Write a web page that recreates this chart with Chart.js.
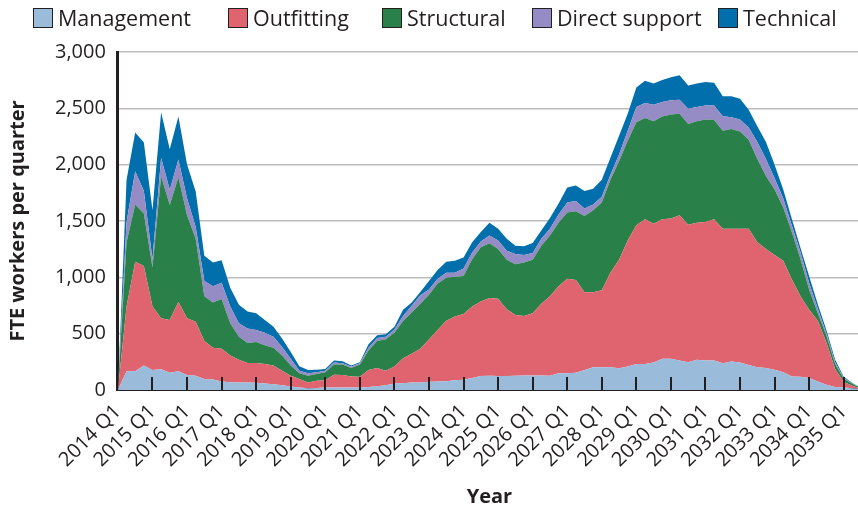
<!DOCTYPE html>
<html lang="en">
<head>
<meta charset="UTF-8">
<title>FTE workers per quarter</title>
<script src="https://cdn.jsdelivr.net/npm/chart.js"></script>
<style>
  html, body { margin: 0; padding: 0; background: #fff; overflow: hidden; }
  .wrap { position: relative; width: 858px; height: 509px; overflow: hidden; }
  #chart { position: absolute; left: 0; top: 0; }
  .legend { position: absolute; top: 7px; left: 0; width: 858px; height: 24px; font-family: 'Open Sans', sans-serif; font-size: 21.5px; color: #231f20; line-height: 22px; white-space: nowrap; }
  .legend .item { position: absolute; top: 0; display: flex; align-items: center; }
  .legend .box { width: 18px; height: 18px; border: 1px solid #231f20; margin-right: 5px; }
</style>
</head>
<body>
<div class="wrap">
  <canvas id="chart" width="861" height="509"></canvas>
  <div class="legend" id="legend"></div>
</div>

<script>
// quarters shown on the x axis (last ones run past the right edge, like the original)
const quarters = [
  '2014 Q1','2014 Q2','2014 Q3','2014 Q4','2015 Q1','2015 Q2','2015 Q3','2015 Q4',
  '2016 Q1','2016 Q2','2016 Q3','2016 Q4','2017 Q1','2017 Q2','2017 Q3','2017 Q4',
  '2018 Q1','2018 Q2','2018 Q3','2018 Q4','2019 Q1','2019 Q2','2019 Q3','2019 Q4',
  '2020 Q1','2020 Q2','2020 Q3','2020 Q4','2021 Q1','2021 Q2','2021 Q3','2021 Q4',
  '2022 Q1','2022 Q2','2022 Q3','2022 Q4','2023 Q1','2023 Q2','2023 Q3','2023 Q4',
  '2024 Q1','2024 Q2','2024 Q3','2024 Q4','2025 Q1','2025 Q2','2025 Q3','2025 Q4',
  '2026 Q1','2026 Q2','2026 Q3','2026 Q4','2027 Q1','2027 Q2','2027 Q3','2027 Q4',
  '2028 Q1','2028 Q2','2028 Q3','2028 Q4','2029 Q1','2029 Q2','2029 Q3','2029 Q4',
  '2030 Q1','2030 Q2','2030 Q3','2030 Q4','2031 Q1','2031 Q2','2031 Q3','2031 Q4',
  '2032 Q1','2032 Q2','2032 Q3','2032 Q4','2033 Q1','2033 Q2','2033 Q3','2033 Q4',
  '2034 Q1','2034 Q2','2034 Q3','2034 Q4','2035 Q1','2035 Q2','2035 Q3'
];

const management = [0,165,165,216,177,183,153,165,132,126, 96,93,75,69,66,66,63,57,51,42,
  30,21,15,18,21,21,21,21,21,27, 33,42,57,60,66,66,72,75,78,87,
  90,105,123,126,123,123,126,129,129,129, 126,147,147,153,177,201,201,201,192,207,
  231,231,243,276,276,261,246,267,261,261, 237,252,243,222,201,195,180,156,120,117,
  105,75,45,27,21,15,6];

const outfitting = [0,576,972,885,564,453,468,615,504,480, 339,282,291,237,201,174,177,174,165,129,
  96,75,51,63,66,114,111,99,96,150, 162,129,150,222,255,300,375,456,537,564,
  585,636,663,690,687,594,540,528,552,636, 705,774,840,822,690,666,684,840,963,1119,
  1230,1284,1233,1239,1245,1290,1221,1218,1230,1254, 1193,1179,1188,1209,1110,1056,1017,990,861,714,
  606,540,375,158,49,21,4];

const structural = [0,570,510,465,345,1260,1020,1107,915,735, 396,402,441,285,204,177,186,165,159,135,
  90,51,60,60,69,90,93,75,108,174, 240,279,300,330,366,399,399,414,381,354,
  336,420,480,486,441,438,450,474,474,516, 540,564,588,612,678,729,780,825,876,885,
  915,900,909,912,924,900,894,900,909,882, 870,885,864,789,739,649,583,474,419,329,
  179,65,60,45,30,19,4];

const directSupport = [0,180,294,201,75,165,135,159,150,105, 135,144,144,150,120,129,105,111,96,75,
  60,24,21,15,15,18,12,12,12,24, 27,21,30,45,60,75,45,42,45,36,
  66,60,51,69,75,81,90,66,60,60, 60,72,90,90,66,51,51,45,60,90,
  135,132,147,129,126,126,135,126,126,129, 130,104,105,110,150,150,100,80,60,60,
  60,40,20,15,8,3,1];

const technical = [0,375,345,429,435,405,360,381,300,315, 225,210,201,165,165,150,150,114,90,75,
  60,39,30,24,15,18,18,9,9,30, 24,24,24,54,30,30,75,78,96,105,
  99,90,84,114,105,105,75,78,90,75, 96,99,132,138,156,138,150,150,165,150,
  174,198,189,195,204,216,207,210,207,201, 177,187,186,157,140,150,120,80,58,40,
  60,40,30,25,10,4,1];

const seriesNames = ['Management', 'Outfitting', 'Structural', 'Direct support', 'Technical'];
const seriesData = [management, outfitting, structural, directSupport, technical];
const seriesColors = ['#9bbbdb', '#e0646f', '#2a8049', '#958bc5', '#006fab'];

const yTicks = [0, 500, 1000, 1500, 2000, 2500, 3000];

const textColor = '#231f20';
const fontFamily = "'Open Sans', sans-serif";

// legend: left edge of each entry, in px
const legendLeft = [33, 228, 382, 532, 718];
const legendEl = document.getElementById('legend');
seriesNames.forEach((name, i) => {
  const item = document.createElement('span');
  item.className = 'item';
  item.style.left = legendLeft[i] + 'px';
  const box = document.createElement('span');
  box.className = 'box';
  box.style.background = seriesColors[i];
  item.appendChild(box);
  item.appendChild(document.createTextNode(name));
  legendEl.appendChild(item);
});

// small year ticks drawn inside the plot, over the areas
const yearTicks = {
  id: 'yearTicks',
  afterDatasetsDraw(chart) {
    const { ctx, chartArea, scales: { x } } = chart;
    ctx.save();
    ctx.strokeStyle = textColor;
    ctx.lineWidth = 2;
    quarters.forEach((q, i) => {
      if (i > 0 && q.endsWith('Q1')) {
        const px = Math.round(x.getPixelForValue(i));
        ctx.beginPath();
        ctx.moveTo(px, chartArea.bottom);
        ctx.lineTo(px, chartArea.bottom - 13);
        ctx.stroke();
      }
    });
    ctx.restore();
  }
};

new Chart(document.getElementById('chart'), {
  type: 'line',
  data: {
    labels: quarters,
    datasets: seriesNames.map((name, i) => ({
      label: name,
      data: seriesData[i],
      backgroundColor: seriesColors[i],
      borderColor: seriesColors[i],
      borderWidth: 0,
      pointRadius: 0,
      tension: 0,
      fill: i === 0 ? 'origin' : '-1'
    }))
  },
  options: {
    responsive: false,
    animation: false,
    devicePixelRatio: 1,
    layout: { padding: { top: 52, left: 0, right: 0, bottom: 0 } },
    plugins: {
      legend: { display: false },
      tooltip: { enabled: false }
    },
    scales: {
      x: {
        grid: { display: false },
        border: { display: true, color: textColor, width: 3 },
        // the empty last labels should not push the plot in from the right
        afterFit: (scale) => { scale.paddingRight = 0; },
        ticks: {
          autoSkip: false,
          minRotation: 45,
          maxRotation: 45,
          padding: 2,
          color: textColor,
          font: { family: fontFamily, size: 20 },
          callback: function (v) {
            const l = this.getLabelForValue(v);
            return l.endsWith('Q1') ? l : '';
          }
        },
        title: {
          display: true,
          text: 'Year',
          color: textColor,
          font: { family: fontFamily, size: 20, weight: 'bold' },
          padding: { top: 11, bottom: 0 }
        }
      },
      y: {
        stacked: true,
        min: yTicks[0],
        max: yTicks[yTicks.length - 1],
        afterBuildTicks: (scale) => { scale.ticks = yTicks.map(v => ({ value: v })); },
        ticks: {
          padding: 12,
          color: textColor,
          font: { family: fontFamily, size: 20 },
          callback: (v) => v.toLocaleString('en-US')
        },
        grid: { color: '#bdbdbd', lineWidth: 1.5, drawTicks: false },
        border: { color: textColor, width: 3 },
        title: {
          display: true,
          text: 'FTE workers per quarter',
          color: textColor,
          font: { family: fontFamily, size: 20, weight: 'bold' },
          padding: { top: 6, bottom: 13 }
        }
      }
    }
  },
  plugins: [yearTicks]
});
</script>
</body>
</html>
